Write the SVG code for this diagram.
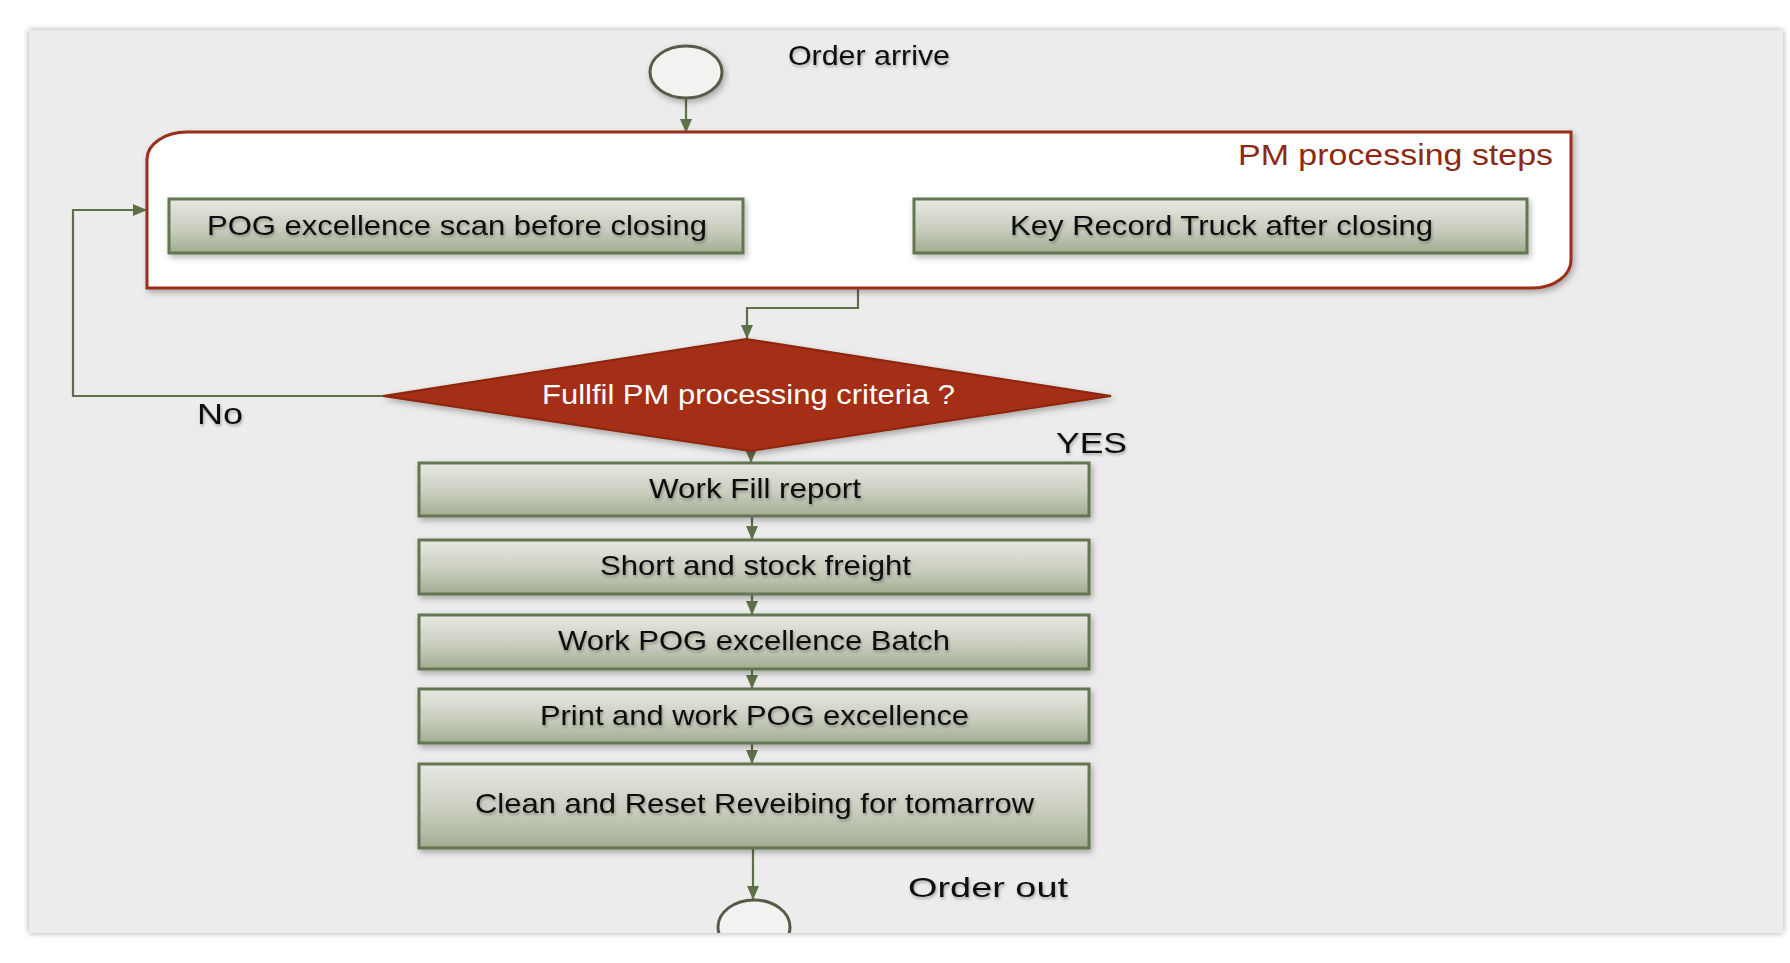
<svg xmlns="http://www.w3.org/2000/svg" width="1790" height="963" viewBox="0 0 1790 963">
<style>
.lbl{font-family:"Liberation Sans",Arial,sans-serif;font-size:28px;fill:#111;}
.box{fill:url(#boxg);stroke:#647650;stroke-width:3;filter:url(#sh);}
.con{fill:none;stroke:#5e7048;stroke-width:2.2;marker-end:url(#arr);}
.ts{filter:url(#tsh);}
</style>
<defs>
<linearGradient id="boxg" x1="0" y1="0" x2="0" y2="1">
<stop offset="0" stop-color="#e7e9e2"/>
<stop offset="0.55" stop-color="#c9cebf"/>
<stop offset="1" stop-color="#a3ac92"/>
</linearGradient>
<filter id="sh" x="-10%" y="-20%" width="120%" height="160%">
<feDropShadow dx="2" dy="3" stdDeviation="3" flood-color="#000" flood-opacity="0.3"/>
</filter>
<filter id="tsh" x="-10%" y="-30%" width="120%" height="170%">
<feDropShadow dx="1" dy="2" stdDeviation="1.5" flood-color="#000" flood-opacity="0.3"/>
</filter>
<filter id="psh" x="-5%" y="-5%" width="110%" height="110%">
<feDropShadow dx="0" dy="0" stdDeviation="3" flood-color="#000" flood-opacity="0.35"/>
</filter>
<marker id="arr" viewBox="0 0 14 12" refX="14" refY="6" markerWidth="14" markerHeight="12" markerUnits="userSpaceOnUse" orient="auto">
<path d="M0,0 L14,6 L0,12 z" fill="#5e7048"/>
</marker>
<clipPath id="pclip"><rect x="29" y="30" width="1754" height="903"/></clipPath>
</defs>
<rect x="0" y="0" width="1790" height="963" fill="#ffffff"/>
<rect x="29" y="30" width="1754" height="903" fill="#ececec" filter="url(#psh)"/>

<g id="connectors">
<path class="con" d="M686,98 V133"/>
<path class="con" d="M858,288 V308 H747 V339"/>
<path class="con" d="M383,396 H73 V210 H147"/>
<path class="con" d="M751,449 V463"/>
<path class="con" d="M752,516 V540"/>
<path class="con" d="M752,594 V615"/>
<path class="con" d="M752,669 V689"/>
<path class="con" d="M752,743 V764"/>
<path class="con" d="M753,848 V900"/>
</g>

<g id="start">
<ellipse cx="686" cy="72" rx="36" ry="26" fill="#f3f2f0" stroke="#5a5a48" stroke-width="3" filter="url(#sh)"/>
<text class="lbl ts" x="788" y="65" textLength="162" lengthAdjust="spacingAndGlyphs">Order arrive</text>
</g>

<g id="pm-container">
<path d="M147,288 V159 A40,27 0 0 1 187,132 H1571 V260 A38,28 0 0 1 1533,288 Z" fill="#ffffff" stroke="#9b2d17" stroke-width="3" filter="url(#sh)"/>
<text class="lbl" x="1238" y="165" textLength="315" lengthAdjust="spacingAndGlyphs" style="fill:#8e2912;font-size:29px">PM processing steps</text>
</g>

<g id="pog-scan">
<rect class="box" x="169" y="199" width="574" height="54"/>
<text class="lbl ts" x="207" y="235" textLength="500" lengthAdjust="spacingAndGlyphs">POG excellence scan before closing</text>
</g>

<g id="key-record">
<rect class="box" x="914" y="199" width="613" height="54"/>
<text class="lbl ts" x="1010" y="235" textLength="423" lengthAdjust="spacingAndGlyphs">Key Record Truck after closing</text>
</g>

<g id="decision">
<polygon points="746,339 1111,396 750,451 383,396" fill="#a52e12" stroke="#8c2610" stroke-width="2" filter="url(#sh)"/>
<text class="lbl" x="542" y="404" textLength="413" lengthAdjust="spacingAndGlyphs" style="fill:#ffffff">Fullfil PM processing criteria ?</text>
</g>

<g id="no-label">
<text class="lbl ts" x="197" y="424" textLength="46" lengthAdjust="spacingAndGlyphs" style="font-size:30px">No</text>
</g>
<g id="yes-label">
<text class="lbl ts" x="1056" y="453" textLength="71" lengthAdjust="spacingAndGlyphs" style="font-size:30px">YES</text>
</g>

<g id="work-fill">
<rect class="box" x="419" y="463" width="670" height="53"/>
<text class="lbl ts" x="649" y="498" textLength="212" lengthAdjust="spacingAndGlyphs">Work Fill report</text>
</g>

<g id="short-stock">
<rect class="box" x="419" y="540" width="670" height="54"/>
<text class="lbl ts" x="600" y="575" textLength="311" lengthAdjust="spacingAndGlyphs">Short and stock freight</text>
</g>

<g id="work-batch">
<rect class="box" x="419" y="615" width="670" height="54"/>
<text class="lbl ts" x="558" y="650" textLength="392" lengthAdjust="spacingAndGlyphs">Work POG excellence Batch</text>
</g>

<g id="print-work">
<rect class="box" x="419" y="689" width="670" height="54"/>
<text class="lbl ts" x="540" y="725" textLength="429" lengthAdjust="spacingAndGlyphs">Print and work POG excellence</text>
</g>

<g id="clean-reset">
<rect class="box" x="419" y="764" width="670" height="84"/>
<text class="lbl ts" x="475" y="813" textLength="559" lengthAdjust="spacingAndGlyphs">Clean and Reset Reveibing for tomarrow</text>
</g>

<g id="end">
<g clip-path="url(#pclip)">
<ellipse cx="754" cy="927" rx="36" ry="27" fill="#f3f2f0" stroke="#5a5a48" stroke-width="3"/>
</g>
<text class="lbl ts" x="908" y="897" textLength="160" lengthAdjust="spacingAndGlyphs">Order out</text>
</g>
</svg>
